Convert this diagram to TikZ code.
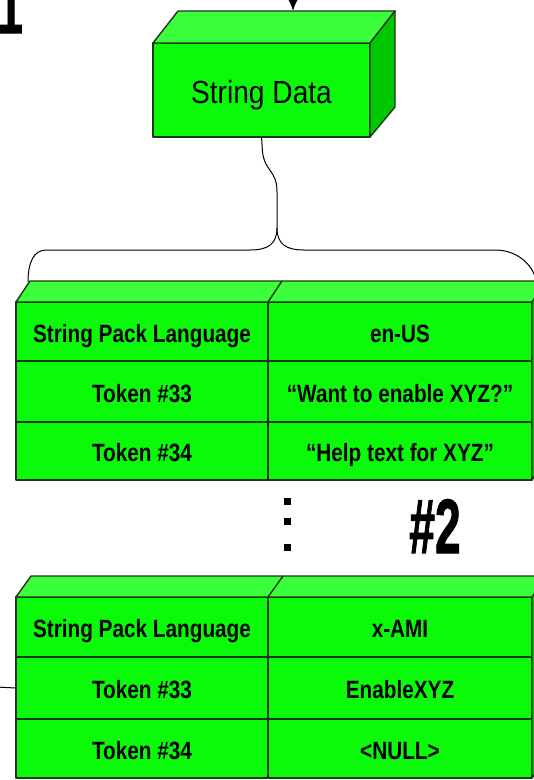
\documentclass[tikz,border=0pt]{standalone}
\usepackage{fontspec}
\setmainfont{Liberation Sans}
\newfontfamily\heavy{Liberation Sans Bold}[FakeBold=1.5]
\usetikzlibrary{arrows.meta}

\definecolor{face}{RGB}{10,250,10}
\definecolor{topface}{RGB}{60,255,60}
\definecolor{sideface}{RGB}{0,200,0}
\definecolor{edge}{RGB}{25,55,25}

% horizontal squeeze for the narrow lettering
\newcommand\sqz[2][0.83]{\scalebox{#1}[1]{#2}}

\begin{document}
\begin{tikzpicture}[x=1pt,y=-1pt,
  solid3d/.style={draw=edge, line width=1.4pt, line join=round},
  cell/.style={solid3d, fill=face, inner sep=0pt, outer sep=0pt,
    text height=21pt, text depth=0pt,
    font=\bfseries\fontsize{25}{28}\selectfont},
  col1/.style={cell, minimum width=252pt},
  col2/.style={cell, minimum width=264pt},
  topf/.style={solid3d, fill=topface},
  sidef/.style={solid3d, fill=sideface},
  wire/.style={draw=black, line width=1.1pt},
  bigmark/.style={inner sep=0pt, font=\heavy\fontsize{77}{80}\selectfont}
]
\useasboundingbox (0,0) rectangle (534,780);
\clip (0,0) rectangle (534,780);

% ---------- String Data block ----------
\node[solid3d, fill=face, minimum width=217pt, minimum height=94pt,
      inner sep=0pt, outer sep=0pt, text height=26pt, text depth=0pt,
      font=\fontsize{32}{36}\selectfont] (sd) at (261.5,90) {\sqz[0.88]{String Data}};
\path[topf] (sd.north west) -- ++(25,-32) -- ++(217,0) -- (sd.north east) -- cycle;
\path[sidef] (sd.north east) -- ++(25,-32) -- ++(0,96) -- (sd.south east) -- cycle;

% incoming arrow from above
\coordinate (feed) at (293,-4);
\coordinate (sdtop) at (293,11);
\draw[wire, -{Latex[length=11pt,width=9pt]}] (feed) -- (sdtop);

% ---------- brace gathering the language packs ----------
\coordinate (tip) at (277,228);
\draw[wire, line width=1pt] (sd.south) -- (262.5,152)
  .. controls (265,172) and (277,170) .. (277,192) -- (tip);
\draw[wire, line width=1pt] (tip) .. controls (277,244) and (268,250) .. (250,250)
  -- (46,250) .. controls (34,250) and (28,262) .. (28,282);
\draw[wire, line width=1pt] (tip) .. controls (277,244) and (286,250) .. (304,250)
  -- (495,250) .. controls (515,250) and (532,262) .. (537,282);

% ---------- first pack (en-US) ----------
\node[col1, minimum height=59pt] (a1) at (142,331.5) {\sqz{String Pack Language}};
\node[col2, minimum height=59pt] (b1) at (400,331.5) {\sqz{en-US}};
\node[col1, minimum height=61pt] (a2) at (142,391.5) {\sqz{Token \#33}};
\node[col2, minimum height=61pt] (b2) at (400,391.5) {\sqz{“Want to enable XYZ?”}};
\node[col1, minimum height=58pt] (a3) at (142,451) {\sqz{Token \#34}};
\node[col2, minimum height=58pt] (b3) at (400,451) {\sqz{“Help text for XYZ”}};
\path[topf] (a1.north west) -- ++(14,-21) -- ++(530,0) -- (b1.north east) -- cycle;
\draw[solid3d] (a1.north east) -- ++(14,-21);
\path[sidef] (b1.north east) -- ++(14,-21) -- ++(0,178) -- (b3.south east) -- cycle;

% ---------- ellipsis and pack number ----------
\fill (283.5,498) rectangle ++(7,7);
\fill (283.5,518) rectangle ++(7,7);
\fill (283.5,544) rectangle ++(7,7);
\node[bigmark, anchor=base] (n2) at (435,553) {\sqz[0.6]{\#2}};
\node[bigmark, anchor=base east] (n1) at (23,33) {\sqz[0.6]{1}};

% ---------- second pack (x-AMI) ----------
\node[col1, minimum height=60pt] (c1) at (142,627) {\sqz{String Pack Language}};
\node[col2, minimum height=60pt] (d1) at (400,627) {\sqz{x-AMI}};
\node[col1, minimum height=62pt] (c2) at (142,688) {\sqz{Token \#33}};
\node[col2, minimum height=62pt] (d2) at (400,688) {\sqz{EnableXYZ}};
\node[col1, minimum height=59pt] (c3) at (142,748.5) {\sqz{Token \#34}};
\node[col2, minimum height=59pt] (d3) at (400,748.5) {\sqz{<NULL>}};
\path[topf] (c1.north west) -- ++(15,-21) -- ++(530,0) -- (d1.north east) -- cycle;
\draw[solid3d] (c1.north east) -- ++(15,-21);
\path[sidef] (d1.north east) -- ++(15,-21) -- ++(0,181) -- (d3.south east) -- cycle;

% link entering the second pack
\coordinate (link) at (-4,687);
\draw[wire, line width=1pt] (link) -- (c2.west);
\end{tikzpicture}
\end{document}
